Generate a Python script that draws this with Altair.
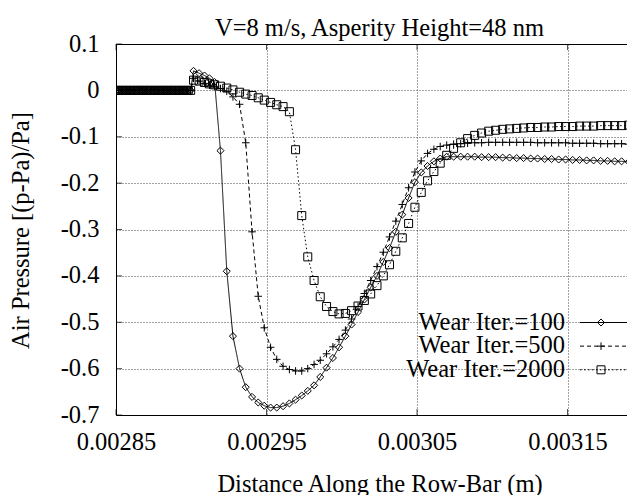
import altair as alt
import pandas as pd

series_names = ["Wear Iter.=100", "Wear Iter.=500", "Wear Iter.=2000"]

x_m = [
    0.0028500, 0.0028516, 0.0028532, 0.0028548, 0.0028564, 0.0028580, 0.0028596, 0.0028612,
    0.0028628, 0.0028644, 0.0028660, 0.0028676, 0.0028692, 0.0028708, 0.0028724, 0.0028740,
    0.0028756, 0.0028772, 0.0028788, 0.0028804, 0.0028820, 0.0028836, 0.0028852, 0.0028868,
    0.0028884, 0.0028900, 0.0028916, 0.0028932, 0.0028948, 0.0028964, 0.0028980, 0.0028996,
    0.0029015, 0.0029052, 0.0029088, 0.0029121, 0.0029155, 0.0029194, 0.0029236, 0.0029277,
    0.0029321, 0.0029362, 0.0029404, 0.0029445, 0.0029485, 0.0029527, 0.0029568, 0.0029610,
    0.0029652, 0.0029693, 0.0029734, 0.0029774, 0.0029816, 0.0029857, 0.0029899, 0.0029941,
    0.0029982, 0.0030024, 0.0030065, 0.0030108, 0.0030150, 0.0030192, 0.0030234, 0.0030276,
    0.0030317, 0.0030359, 0.0030402, 0.0030444, 0.0030486, 0.0030528, 0.0030570, 0.0030612,
    0.0030654, 0.0030697,
    0.0030743, 0.0030790, 0.0030836, 0.0030883, 0.0030929, 0.0030976, 0.0031022, 0.0031069,
    0.0031115, 0.0031162, 0.0031208, 0.0031255, 0.0031301, 0.0031348, 0.0031394, 0.0031441,
    0.0031487, 0.0031534, 0.0031580, 0.0031627, 0.0031673, 0.0031720, 0.0031766, 0.0031813,
    0.0031859, 0.0031906, 0.0031952,
]

p_100 = [
    0.0, 0.0, 0.0, 0.0, 0.0, 0.0, 0.0, 0.0, 0.0, 0.0, 0.0, 0.0, 0.0, 0.0, 0.0, 0.0,
    0.0, 0.0, 0.0, 0.0, 0.0, 0.0, 0.0, 0.0, 0.0, 0.0, 0.0, 0.0, 0.0, 0.0, 0.0, 0.0,
    0.042, 0.037, 0.032, 0.026, 0.018, -0.13, -0.39, -0.53, -0.60, -0.64, -0.661, -0.673,
    -0.680, -0.684, -0.684, -0.681, -0.675, -0.667, -0.658, -0.648, -0.636, -0.618, -0.598,
    -0.577, -0.554, -0.530, -0.505, -0.478, -0.451, -0.425, -0.400, -0.370, -0.340, -0.305,
    -0.268, -0.232, -0.198, -0.177, -0.163, -0.153, -0.147, -0.143,
    -0.143, -0.143, -0.143, -0.143, -0.144, -0.144, -0.144, -0.145, -0.145, -0.146, -0.146,
    -0.147, -0.147, -0.148, -0.148, -0.149, -0.149, -0.150, -0.150, -0.151, -0.151, -0.152,
    -0.152, -0.153, -0.153, -0.154, -0.154,
]

p_500 = [
    0.0, 0.0, 0.0, 0.0, 0.0, 0.0, 0.0, 0.0, 0.0, 0.0, 0.0, 0.0, 0.0, 0.0, 0.0, 0.0,
    0.0, 0.0, 0.0, 0.0, 0.0, 0.0, 0.0, 0.0, 0.0, 0.0, 0.0, 0.0, 0.0, 0.0, 0.0, 0.0,
    0.026, 0.020, 0.015, 0.011, 0.008, 0.004, -0.002, -0.014, -0.030, -0.113, -0.305, -0.444,
    -0.512, -0.554, -0.580, -0.595, -0.602, -0.605, -0.605, -0.600, -0.591, -0.582, -0.568,
    -0.553, -0.537, -0.517, -0.493, -0.466, -0.438, -0.410, -0.380, -0.349, -0.316, -0.282,
    -0.246, -0.210, -0.176, -0.152, -0.136, -0.127, -0.121, -0.118,
    -0.116, -0.115, -0.114, -0.113, -0.113, -0.112, -0.112, -0.112, -0.112, -0.112, -0.112,
    -0.112, -0.113, -0.113, -0.113, -0.113, -0.113, -0.114, -0.114, -0.114, -0.114, -0.115,
    -0.115, -0.115, -0.115, -0.116, -0.116,
]

p_2000 = [
    0.0, 0.0, 0.0, 0.0, 0.0, 0.0, 0.0, 0.0, 0.0, 0.0, 0.0, 0.0, 0.0, 0.0, 0.0, 0.0,
    0.0, 0.0, 0.0, 0.0, 0.0, 0.0, 0.0, 0.0, 0.0, 0.0, 0.0, 0.0, 0.0, 0.0, 0.0, 0.0,
    0.022, 0.020, 0.017, 0.014, 0.012, 0.009, 0.005, 0.001, -0.004, -0.008, -0.011, -0.016,
    -0.021, -0.026, -0.031, -0.035, -0.046, -0.128, -0.270, -0.359, -0.410, -0.445, -0.466,
    -0.477, -0.482, -0.481, -0.475, -0.465, -0.453, -0.439, -0.421, -0.400, -0.376, -0.347,
    -0.318, -0.287, -0.252, -0.220, -0.195, -0.175, -0.157, -0.140,
    -0.125, -0.113, -0.104, -0.097, -0.092, -0.088, -0.086, -0.084, -0.083, -0.082, -0.081,
    -0.080, -0.080, -0.079, -0.079, -0.078, -0.078, -0.078, -0.077, -0.077, -0.077, -0.076,
    -0.076, -0.076, -0.076, -0.075, -0.075,
]

x_ticks = [0.00285, 0.00295, 0.00305, 0.00315]
y_ticks = [0.1, 0.0, -0.1, -0.2, -0.3, -0.4, -0.5, -0.6, -0.7]

rows = []
for name, ys in zip(series_names, [p_100, p_500, p_2000]):
    for xv, yv in zip(x_m, ys):
        rows.append({"x": xv, "p": yv, "series": name})
df = pd.DataFrame(rows)
legend_df = pd.DataFrame({"series": series_names})
xtick_df = pd.DataFrame({"x": x_ticks})
ytick_df = pd.DataFrame({"p": y_ticks})

FONT = "Liberation Serif"
FS = 24.5
W, H = 511, 371

dash_scale = alt.Scale(domain=series_names, range=[[1, 0], [4, 3], [1.5, 2.5]])
shape_scale = alt.Scale(domain=series_names, range=["diamond", "M-1,0H1M0,-1V1", "square"])
size_scale = alt.Scale(domain=series_names, range=[50, 64, 42])
x_scale = alt.Scale(domain=[0.00285, 0.0031895], nice=False, zero=False)
y_scale = alt.Scale(domain=[-0.7, 0.1], nice=False, zero=False)

x_enc = alt.X(
    "x:Q",
    scale=x_scale,
    axis=alt.Axis(
        values=x_ticks, format=".5f", title="Distance Along the Row-Bar (m)",
        grid=True, gridColor="#444", gridDash=[1, 2], ticks=False,
        domain=True, domainColor="black", domainWidth=1,
        labelFont=FONT, labelFontSize=FS, labelColor="black", labelPadding=15.5,
        labelFlush=False, labelOverlap=False,
        titleFont=FONT, titleFontSize=FS, titleFontWeight="normal", titleColor="black",
        titleX=263.5, titleY=76, titleBaseline="alphabetic", titleAlign="center",
    ),
)
y_enc = alt.Y(
    "p:Q",
    scale=y_scale,
    axis=alt.Axis(
        values=y_ticks,
        labelExpr="datum.value == 0 ? '0' : replace(format(datum.value, '.1f'), '\u2212', '-')",
        title="Air Pressure [(p-Pa)/Pa]",
        grid=True, gridColor="#444", gridDash=[1, 2], ticks=False,
        domain=True, domainColor="black", domainWidth=1,
        labelFont=FONT, labelFontSize=FS, labelColor="black", labelPadding=17,
        labelFlush=False, labelOverlap=False,
        titleFont=FONT, titleFontSize=FS, titleFontWeight="normal", titleColor="black",
        titleAngle=270, titleX=-87.5, titleY=186, titleBaseline="alphabetic", titleAlign="center",
    ),
)

base = alt.Chart(df)
lines = base.mark_line(color="black", strokeWidth=1, clip=True).encode(
    x=x_enc, y=y_enc,
    strokeDash=alt.StrokeDash("series:N", scale=dash_scale, legend=None),
)
points = base.mark_point(filled=False, color="black", strokeWidth=1, opacity=1, clip=True).encode(
    x=x_enc, y=y_enc,
    shape=alt.Shape("series:N", scale=shape_scale, legend=None),
    size=alt.Size("series:N", scale=size_scale, legend=None),
)

# inward tick marks on the frame (gnuplot style)
xt = alt.Chart(xtick_df)
xticks_bottom = xt.mark_tick(orient="vertical", size=6, thickness=1, color="black").encode(
    x=x_enc, y=alt.value(H - 3)
)
xticks_top = xt.mark_tick(orient="vertical", size=6, thickness=1, color="black").encode(
    x=x_enc, y=alt.value(3)
)
yticks_left = alt.Chart(ytick_df).mark_tick(orient="horizontal", size=6, thickness=1, color="black").encode(
    y=y_enc, x=alt.value(3)
)
main = alt.layer(lines, points, xticks_bottom, xticks_top, yticks_left)

# top frame line drawn as a second x axis (domain only)
top_frame = xt.mark_tick(opacity=0).encode(
    x=alt.X("x:Q", scale=x_scale, axis=alt.Axis(
        orient="top", labels=False, ticks=False, grid=False, domain=True,
        domainColor="black", domainWidth=1, title=None)),
)

leg_y = alt.Y("series:N", scale=alt.Scale(type="point", domain=series_names,
                                          range=[278.5, 325.8], padding=0), axis=None)
leg = alt.Chart(legend_df)
leg_text = leg.mark_text(font=FONT, fontSize=FS, align="right", baseline="middle", color="black").encode(
    x=alt.value(449), y=leg_y, text="series:N"
)
leg_rule = leg.mark_rule(color="black", strokeWidth=1).encode(
    x=alt.value(464), x2=alt.value(512), y=leg_y,
    strokeDash=alt.StrokeDash("series:N", scale=dash_scale, legend=None),
)
leg_pt = leg.mark_point(filled=False, color="black", strokeWidth=1, opacity=1).encode(
    x=alt.value(485), y=leg_y,
    shape=alt.Shape("series:N", scale=shape_scale, legend=None),
    size=alt.Size("series:N", scale=size_scale, legend=None),
)
legend_layer = alt.layer(leg_rule, leg_pt, leg_text, top_frame)

chart = alt.layer(main, legend_layer).resolve_scale(
    y="independent"
).resolve_axis(x="independent").properties(
    width=W, height=H,
    autosize=alt.AutoSizeParams(type="none"),
    padding={"left": 108, "top": 36, "right": 0, "bottom": 80},
    title=alt.TitleParams(
        "V=8 m/s, Asperity Height=48 nm", font=FONT, fontSize=FS, fontWeight="normal",
        color="black", anchor="middle", frame="group", dx=8, dy=15, offset=5,
    ),
).configure_view(stroke=None).configure_axis(
    labelFont=FONT, titleFont=FONT
).configure_title(font=FONT).configure(background="white")

chart.save("out.html", embed_options={"renderer": "svg", "actions": False})
